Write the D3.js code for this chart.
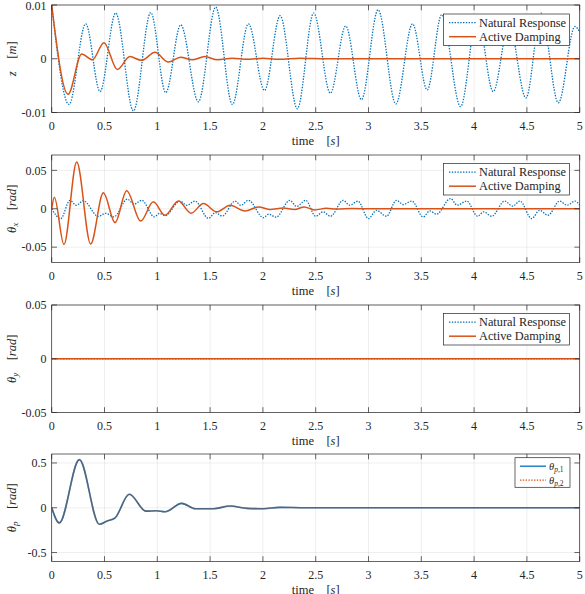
<!DOCTYPE html>
<html><head><meta charset="utf-8">
<script src="https://cdn.jsdelivr.net/npm/d3@7"></script>
<style>body{margin:0;background:#fff}svg{display:block}</style>
</head><body><svg id="c" width="585" height="594"></svg>
<script>
// ---------- data ----------
const timeTicks = [0, 0.5, 1, 1.5, 2, 2.5, 3, 3.5, 4, 4.5, 5];
const timeTickLabels = ["0", "0.5", "1", "1.5", "2", "2.5", "3", "3.5", "4", "4.5", "5"];

const zTicks = [-0.01, 0, 0.01];
const zTickLabels = ["-0.01", "0", "0.01"];
const thxTicks = [-0.05, 0, 0.05];
const thxTickLabels = ["-0.05", "0", "0.05"];
const thyTicks = [-0.05, 0, 0.05];
const thyTickLabels = ["-0.05", "0", "0.05"];
const thpTicks = [-0.5, 0, 0.5];
const thpTickLabels = ["-0.5", "0", "0.5"];

const legendLabels = ["Natural Response", "Active Damping"];

// z [m]
const zNatural = [
  [0, 0.0100], [0.164, -0.0085], [0.322, 0.0065], [0.458, -0.0061], [0.606, 0.0085],
  [0.774, -0.0097], [0.938, 0.0086], [1.080, -0.0063], [1.222, 0.0063], [1.389, -0.0080],
  [1.553, 0.0096], [1.711, -0.0085], [1.863, 0.0065], [2.015, -0.0059], [2.163, 0.0080],
  [2.326, -0.0093], [2.481, 0.0085], [2.639, -0.0064], [2.784, 0.0061], [2.933, -0.0076],
  [3.091, 0.0091], [3.259, -0.0084], [3.417, 0.0065], [3.556, -0.0058], [3.693, 0.0082],
  [3.872, -0.0089], [4.030, 0.0080], [4.181, -0.0061], [4.330, 0.0065], [4.491, -0.0073],
  [4.635, 0.0085], [4.798, -0.0082], [4.955, 0.0060], [5.000, 0.0050]
];
const zActive = [
  [0, 0.0100], [0.155, -0.0066], [0.284, 0.0009], [0.385, -0.0002], [0.495, 0.0030],
  [0.621, -0.0020], [0.740, 0.0004], [0.850, -0.0003], [0.978, 0.0012], [1.104, -0.0006],
  [1.220, 0.0003], [1.330, -0.0002], [1.450, 0.0004], [1.570, -0.0002], [1.710, 0.0001],
  [1.850, -0.0001], [2.000, 0.0001], [2.150, -0.0001], [2.350, 0.0001], [2.600, 0], [5.000, 0]
];

// theta_x [rad]
const thetaXNatural = [
  [0, 0], [0.085, -0.0129], [0.173, 0.0110], [0.232, 0.0045], [0.300, 0.0105],
  [0.441, -0.0100], [0.510, -0.0060], [0.590, -0.0105], [0.716, 0.0125], [0.780, 0.0060],
  [0.852, 0.0110], [0.972, -0.0105], [1.020, -0.0060], [1.075, -0.0090], [1.215, 0.0100],
  [1.280, 0.0045], [1.357, 0.0100], [1.484, -0.0125], [1.550, -0.0050], [1.615, -0.0095],
  [1.737, 0.0100], [1.790, 0.0045], [1.863, 0.0110], [2.005, -0.0116], [2.055, -0.0070],
  [2.125, -0.0110], [2.255, 0.0110], [2.320, 0.0030], [2.405, 0.0110], [2.500, -0.0098],
  [2.570, -0.0040], [2.640, -0.0098], [2.760, 0.0110], [2.820, 0.0046], [2.900, 0.0098],
  [3.000, -0.0129], [3.075, -0.0020], [3.170, -0.0098], [3.265, 0.0110], [3.330, 0.0055],
  [3.410, 0.0100], [3.518, -0.0107], [3.580, -0.0028], [3.644, -0.0072], [3.777, 0.0133],
  [3.840, 0.0046], [3.930, 0.0100], [4.033, -0.0098], [4.090, -0.0040], [4.166, -0.0098],
  [4.290, 0.0100], [4.365, 0.0033], [4.434, 0.0100], [4.545, -0.0129], [4.620, -0.0020],
  [4.700, -0.0085], [4.810, 0.0100], [4.880, 0.0046], [4.956, 0.0100], [5.000, 0.0046]
];
const thetaXActive = [
  [0, 0], [0.025, 0.0150], [0.116, -0.0466], [0.237, 0.0608], [0.369, -0.0460],
  [0.489, 0.0207], [0.600, -0.0180], [0.710, 0.0233], [0.843, -0.0160], [0.962, 0.0090],
  [1.073, -0.0086], [1.200, 0.0100], [1.320, -0.0058], [1.437, 0.0068], [1.563, -0.0040],
  [1.690, 0.0045], [1.830, -0.0030], [1.960, 0.0024], [2.070, -0.0010], [2.190, 0.0010],
  [2.300, -0.0010], [2.390, 0.0024], [2.490, -0.0015], [2.600, 0.0005], [2.700, -0.0003],
  [2.850, 0.0002], [3.000, 0], [5.000, 0]
];

// theta_y [rad]
const thetaYNatural = [[0, 0], [5, 0]];
const thetaYActive = [[0, 0], [5, 0]];

// theta_p [rad]
const thetaP1 = [
  [0, 0], [0.072, -0.169], [0.262, 0.537], [0.451, -0.184], [0.520, -0.150],
  [0.600, -0.113], [0.735, 0.150], [0.893, -0.038], [0.990, -0.034], [1.073, -0.045],
  [1.231, 0.049], [1.360, -0.011], [1.530, -0.011], [1.690, 0.019], [1.850, -0.007],
  [2.000, -0.011], [2.160, 0.004], [2.400, 0.000], [5.000, 0]
];
const thetaP2 = thetaP1; // the two curves coincide in the picture

// ---------- drawing ----------
const BLUE = "#0072BD", ORANGE = "#D95319", AX = "#262626";
const FONT = "Liberation Serif, Times New Roman, serif";
const svg = d3.select("#c");
const L = 51.7, R = 579.7, H = 107.5;
const x = d3.scaleLinear().domain([0, 5]).range([L, R]);

const panels = [
  { top: 5, domain: [-0.01, 0.01], ticks: zTicks, labels: zTickLabels,
    series: [{ d: zNatural, c: BLUE, dash: "1.4 1.4", w: 1.3 }, { d: zActive, c: ORANGE, w: 1.5 }],
    legend: { names: legendLabels, left: 443.5, w: 126, dy: 9, h: 31.5 }, ylab: "z" },
  { top: 155, domain: [-0.07, 0.07], ticks: thxTicks, labels: thxTickLabels,
    series: [{ d: thetaXNatural, c: BLUE, dash: "1.4 1.4", w: 1.3 }, { d: thetaXActive, c: ORANGE, w: 1.5 }],
    legend: { names: legendLabels, left: 443.5, w: 126, dy: 8.5, h: 31.5 }, ylab: "thx" },
  { top: 305, domain: [-0.05, 0.05], ticks: thyTicks, labels: thyTickLabels,
    series: [{ d: thetaYNatural, c: BLUE, dash: "1.4 1.4", w: 1.3 }, { d: thetaYActive, c: ORANGE, w: 1.5 }],
    legend: { names: legendLabels, left: 443.5, w: 126, dy: 8.5, h: 31.5 }, ylab: "thy" },
  { top: 454, domain: [-0.6, 0.6], ticks: thpTicks, labels: thpTickLabels,
    series: [{ d: thetaP1, c: BLUE, w: 1.6 }, { d: thetaP2, c: ORANGE, dash: "0.5 0.5", w: 1.6, op: 0.75 }],
    legend: { names: ["p1", "p2"], left: 515, w: 55, dy: 3.7, h: 29.6, small: true }, ylab: "thp" }
];

panels.forEach((p, i) => {
  const top = p.top, bot = top + H;
  const y = d3.scaleLinear().domain(p.domain).range([bot, top]);
  const g = svg.append("g");
  const cid = "clip" + i;
  svg.append("clipPath").attr("id", cid).append("rect")
    .attr("x", L).attr("y", top).attr("width", R - L).attr("height", H);

  // grid
  g.selectAll(".gx").data(timeTicks).join("line")
    .attr("x1", d => x(d)).attr("x2", d => x(d)).attr("y1", top).attr("y2", bot)
    .attr("stroke", AX).attr("stroke-opacity", 0.13).attr("stroke-width", 0.6);
  g.selectAll(".gy").data(p.ticks).join("line")
    .attr("y1", d => y(d)).attr("y2", d => y(d)).attr("x1", L).attr("x2", R)
    .attr("stroke", AX).attr("stroke-opacity", 0.13).attr("stroke-width", 0.6);

  // lines
  const line = d3.line().x(d => x(d[0])).y(d => y(d[1])).curve(d3.curveMonotoneX);
  p.series.forEach(s => {
    g.append("path").attr("clip-path", `url(#${cid})`).attr("d", line(s.d))
      .attr("fill", "none").attr("stroke", s.c).attr("stroke-width", s.w)
      .attr("stroke-opacity", s.op || 1)
      .attr("stroke-dasharray", s.dash || null);
  });

  // box and ticks
  g.append("rect").attr("x", L).attr("y", top).attr("width", R - L).attr("height", H)
    .attr("fill", "none").attr("stroke", AX).attr("stroke-width", 0.7);
  const tl = 5.3;
  timeTicks.forEach(t => {
    g.append("line").attr("x1", x(t)).attr("x2", x(t)).attr("y1", bot).attr("y2", bot - tl).attr("stroke", AX).attr("stroke-width", 0.7);
    g.append("line").attr("x1", x(t)).attr("x2", x(t)).attr("y1", top).attr("y2", top + tl).attr("stroke", AX).attr("stroke-width", 0.7);
  });
  p.ticks.forEach(v => {
    g.append("line").attr("x1", L).attr("x2", L + tl).attr("y1", y(v)).attr("y2", y(v)).attr("stroke", AX).attr("stroke-width", 0.7);
    g.append("line").attr("x1", R).attr("x2", R - tl).attr("y1", y(v)).attr("y2", y(v)).attr("stroke", AX).attr("stroke-width", 0.7);
  });

  // tick labels
  g.selectAll(".xt").data(timeTicks).join("text")
    .attr("x", d => x(d)).attr("y", bot + 17.5).attr("text-anchor", "middle")
    .attr("font-family", FONT).attr("font-size", 12).attr("fill", AX)
    .text((d, k) => timeTickLabels[k]);
  g.selectAll(".yt").data(p.ticks).join("text")
    .attr("x", 46.5).attr("y", d => Math.max(y(d) + 4.2, 10)).attr("text-anchor", "end")
    .attr("font-family", FONT).attr("font-size", 12).attr("fill", AX)
    .text((d, k) => p.labels[k]);

  // x label
  const xl = g.append("text").attr("x", (L + R) / 2).attr("y", bot + 32).attr("text-anchor", "middle")
    .attr("font-family", FONT).attr("font-size", 12.5).attr("fill", AX);
  xl.append("tspan").text("time\u2002\u2002[");
  xl.append("tspan").attr("font-style", "italic").text("s");
  xl.append("tspan").text("]");

  // y label
  const yl = g.append("text").attr("transform", `translate(15.5,${(top + bot) / 2}) rotate(-90)`)
    .attr("text-anchor", "middle").attr("font-family", FONT).attr("font-size", 12.5).attr("fill", AX);
  if (p.ylab === "z") {
    yl.append("tspan").attr("font-style", "italic").text("z");
    yl.append("tspan").text("\u2002\u2002[");
    yl.append("tspan").attr("font-style", "italic").text("m");
    yl.append("tspan").text("]");
  } else {
    const sub = { thx: "x", thy: "y", thp: "p" }[p.ylab];
    yl.append("tspan").attr("font-style", "italic").text("θ");
    yl.append("tspan").attr("font-style", "italic").attr("font-size", 9).attr("dy", 2.5).text(sub);
    yl.append("tspan").attr("dy", -2.5).text("\u2002\u2002[");
    yl.append("tspan").attr("font-style", "italic").text("rad");
    yl.append("tspan").text("]");
  }

  // legend
  const lg = p.legend;
  const ly = top + lg.dy;
  g.append("rect").attr("x", lg.left).attr("y", ly).attr("width", lg.w).attr("height", lg.h)
    .attr("fill", "#fff").attr("stroke", AX).attr("stroke-width", 0.7);
  const rows = lg.small ? [ly + 8.5, ly + 22.5] : [ly + 8.7, ly + 22.7];
  p.series.forEach((s, k) => {
    const x0 = lg.small ? lg.left + 5 : lg.left + 5.5;
    const x1 = lg.small ? lg.left + 31 : lg.left + 32.5;
    g.append("line").attr("x1", x0).attr("x2", x1).attr("y1", rows[k]).attr("y2", rows[k])
      .attr("stroke", s.c).attr("stroke-width", lg.small ? 1.3 : s.w)
      .attr("stroke-dasharray", s.dash ? "1.4 1.4" : null);
    const t = g.append("text").attr("x", x1 + 3).attr("y", rows[k] + 4)
      .attr("font-family", FONT).attr("fill", AX);
    if (lg.small) {
      t.attr("font-size", 10.5);
      t.append("tspan").attr("font-style", "italic").text("θ");
      t.append("tspan").attr("font-size", 7.5).attr("dy", 2.2).attr("font-style", "italic").text("p");
      t.append("tspan").attr("font-size", 7.5).text("," + (k + 1));
    } else {
      t.attr("font-size", 12.3).text(lg.names[k]);
    }
  });
});
</script></body></html>
